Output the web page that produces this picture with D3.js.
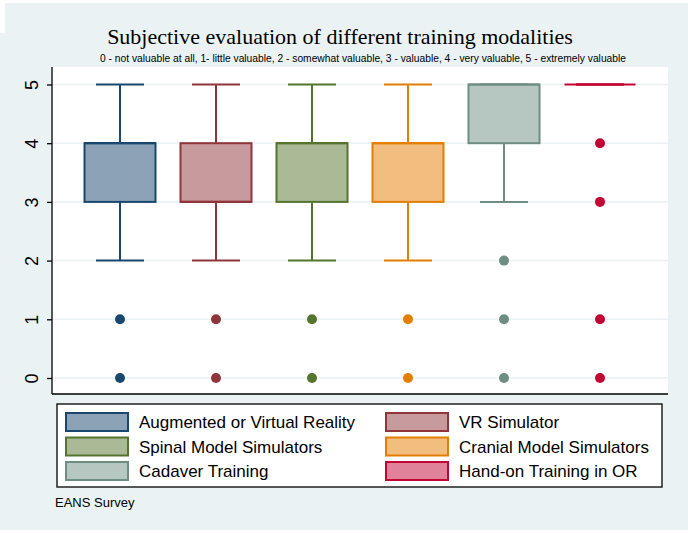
<!DOCTYPE html>
<html>
<head>
<meta charset="utf-8">
<script src="https://cdn.jsdelivr.net/npm/d3@7"></script>
<style>
  body { margin: 0; background: #ffffff; }
  svg { display: block; }
</style>
</head>
<body>
<div id="chart"></div>
<script>
// data
var groups = ["Augmented or Virtual Reality", "VR Simulator", "Spinal Model Simulators",
   "Cranial Model Simulators", "Cadaver Training", "Hand-on Training in OR"];
var lowerWhisker = [2, 2, 2, 2, 3, 5];
var q1 = [3, 3, 3, 3, 4, 5];
var medians = [4, 3, 4, 4, 5, 5];
var q3 = [4, 4, 4, 4, 5, 5];
var upperWhisker = [5, 5, 5, 5, 5, 5];
var outliers = [[1, 0], [1, 0], [1, 0], [1, 0], [2, 1, 0], [4, 3, 1, 0]];
var yTicks = [0, 1, 2, 3, 4, 5];

var strokeColors = ["#1a476f", "#90353b", "#55752f", "#e37e00", "#6e8e84", "#c10534"];
var fillColors = ["#8ca3b7", "#c79a9d", "#aaba97", "#f1be7f", "#b6c6c1", "#e0829a"];

var svgWidth = 688;
var svgHeight = 533;

var plot = { left: 52, right: 668, top: 67, bottom: 394 };

var svg = d3.select("#chart")
   .append("svg")
   .attr("width", svgWidth)
   .attr("height", svgHeight);

// graph region background
svg.append("rect")
   .attr("x", 0).attr("y", 3)
   .attr("width", svgWidth).attr("height", 527)
   .attr("fill", "#eaf2f3");
svg.append("rect")
   .attr("x", 0).attr("y", 0)
   .attr("width", 5).attr("height", 33)
   .attr("fill", "#ffffff");

// plot region
svg.append("rect")
   .attr("x", plot.left).attr("y", plot.top)
   .attr("width", plot.right - plot.left).attr("height", plot.bottom - plot.top)
   .attr("fill", "#ffffff");

var xScale = d3.scalePoint()
   .domain(groups)
   .range([120, 600]);

var yScale = d3.scaleLinear()
   .domain([0, 5])
   .range([378, 84.5]);

// grid lines
svg.append("g")
   .selectAll("line")
   .data(yTicks)
   .enter()
   .append("line")
   .attr("x1", plot.left)
   .attr("x2", plot.right)
   .attr("y1", d => yScale(d))
   .attr("y2", d => yScale(d))
   .attr("stroke", "#eaf2f3")
   .attr("stroke-width", 1.5);

// y axis
var leftAxis = d3.axisLeft(yScale)
   .tickValues(yTicks)
   .tickSize(5)
   .tickFormat(d3.format("d"));

var yAxis = svg.append("g")
   .attr("transform", `translate(${plot.left}, 0)`)
   .call(leftAxis);

yAxis.select(".domain").remove();
yAxis.selectAll(".tick line").attr("stroke", "#000").attr("stroke-width", 1.3);
yAxis.selectAll(".tick text")
   .attr("font-family", "Liberation Sans, Arial, sans-serif")
   .attr("font-size", 18)
   .attr("fill", "#000")
   .attr("text-anchor", "middle")
   .attr("x", 0)
   .attr("dy", 0)
   .attr("y", 0)
   .attr("transform", "translate(-14, 0) rotate(-90)");

// axis lines
svg.append("line")
   .attr("x1", plot.left).attr("x2", plot.left)
   .attr("y1", plot.top).attr("y2", plot.bottom)
   .attr("stroke", "#000").attr("stroke-width", 1.3);
svg.append("line")
   .attr("x1", plot.left).attr("x2", plot.right)
   .attr("y1", plot.bottom).attr("y2", plot.bottom)
   .attr("stroke", "#000").attr("stroke-width", 1.3);

var boxWidth = 71;
var capWidth = 48;

var boxes = svg.append("g")
   .selectAll("g")
   .data(groups)
   .enter()
   .append("g");

// whiskers
boxes.append("line")
   .attr("x1", d => xScale(d)).attr("x2", d => xScale(d))
   .attr("y1", (d, i) => yScale(upperWhisker[i]))
   .attr("y2", (d, i) => yScale(q3[i]))
   .attr("stroke", (d, i) => strokeColors[i]).attr("stroke-width", 2);
boxes.append("line")
   .attr("x1", d => xScale(d)).attr("x2", d => xScale(d))
   .attr("y1", (d, i) => yScale(lowerWhisker[i]))
   .attr("y2", (d, i) => yScale(q1[i]))
   .attr("stroke", (d, i) => strokeColors[i]).attr("stroke-width", 2);
boxes.append("line")
   .attr("x1", d => xScale(d) - capWidth / 2).attr("x2", d => xScale(d) + capWidth / 2)
   .attr("y1", (d, i) => yScale(upperWhisker[i]))
   .attr("y2", (d, i) => yScale(upperWhisker[i]))
   .attr("stroke", (d, i) => strokeColors[i]).attr("stroke-width", 2);
boxes.append("line")
   .attr("x1", d => xScale(d) - capWidth / 2).attr("x2", d => xScale(d) + capWidth / 2)
   .attr("y1", (d, i) => yScale(lowerWhisker[i]))
   .attr("y2", (d, i) => yScale(lowerWhisker[i]))
   .attr("stroke", (d, i) => strokeColors[i]).attr("stroke-width", 2);

// boxes
boxes.append("rect")
   .attr("x", d => xScale(d) - boxWidth / 2)
   .attr("y", (d, i) => yScale(q3[i]))
   .attr("width", boxWidth)
   .attr("height", (d, i) => yScale(q1[i]) - yScale(q3[i]))
   .attr("fill", (d, i) => fillColors[i])
   .attr("stroke", (d, i) => strokeColors[i])
   .attr("stroke-width", 2);

// median
boxes.append("line")
   .attr("x1", d => xScale(d) - boxWidth / 2).attr("x2", d => xScale(d) + boxWidth / 2)
   .attr("y1", (d, i) => yScale(medians[i]))
   .attr("y2", (d, i) => yScale(medians[i]))
   .attr("stroke", (d, i) => strokeColors[i]).attr("stroke-width", 2.2);

// outliers
boxes.each(function (d, i) {
   d3.select(this).selectAll("circle")
      .data(outliers[i])
      .enter()
      .append("circle")
      .attr("cx", xScale(d))
      .attr("cy", v => yScale(v))
      .attr("r", 5)
      .attr("fill", strokeColors[i]);
});

// titles
svg.append("text")
   .attr("x", 340)
   .attr("y", 44)
   .attr("text-anchor", "middle")
   .attr("font-family", "Liberation Serif, Times New Roman, serif")
   .attr("font-size", 22)
   .attr("fill", "#000")
   .text("Subjective evaluation of different training modalities");

svg.append("text")
   .attr("x", 100)
   .attr("y", 62)
   .attr("font-family", "Liberation Sans Narrow, Liberation Sans, Arial, sans-serif")
   .attr("font-size", 11)
   .attr("textLength", 526)
   .attr("lengthAdjust", "spacingAndGlyphs")
   .attr("fill", "#000")
   .text("0 - not valuable at all, 1- little valuable, 2 - somewhat valuable, 3 - valuable, 4 - very valuable, 5 - extremely valuable");

// legend
var legend = svg.append("g");
legend.append("rect")
   .attr("x", 57).attr("y", 404)
   .attr("width", 605).attr("height", 83)
   .attr("fill", "#ffffff")
   .attr("stroke", "#000")
   .attr("stroke-width", 1.3);

var legendItems = legend.selectAll("g")
   .data(groups)
   .enter()
   .append("g")
   .attr("transform", (d, i) => `translate(${i % 2 === 0 ? 66 : 386}, ${413 + Math.floor(i / 2) * 24.5})`);

legendItems.append("rect")
   .attr("width", 62).attr("height", 18)
   .attr("fill", (d, i) => fillColors[i])
   .attr("stroke", (d, i) => strokeColors[i])
   .attr("stroke-width", 2);

legendItems.append("text")
   .attr("x", 73)
   .attr("y", 15)
   .attr("font-family", "Liberation Sans, Arial, sans-serif")
   .attr("font-size", 17)
   .attr("fill", "#000")
   .text(d => d);

svg.append("text")
   .attr("x", 55)
   .attr("y", 507)
   .attr("font-family", "Liberation Sans Narrow, Liberation Sans, Arial, sans-serif")
   .attr("font-size", 13)
   .attr("fill", "#000")
   .text("EANS Survey");
</script>
</body>
</html>
